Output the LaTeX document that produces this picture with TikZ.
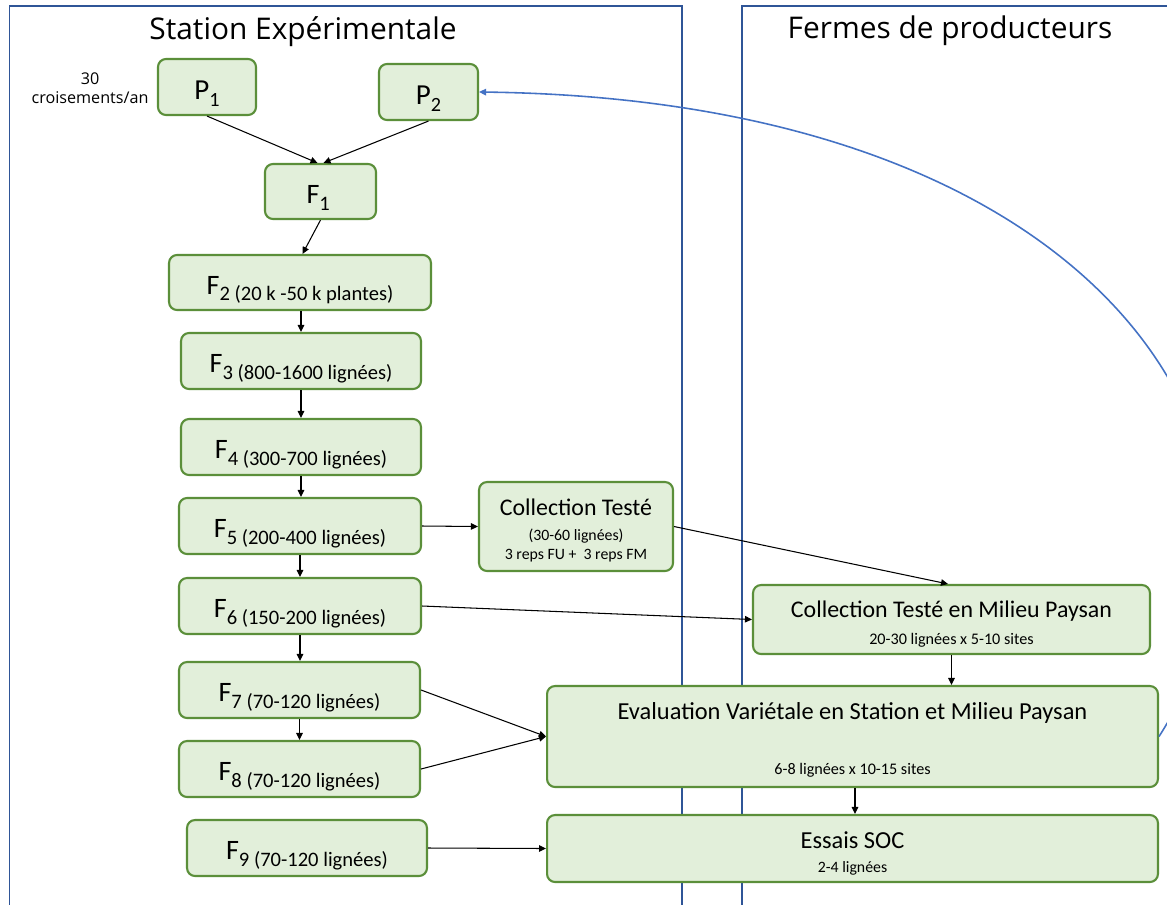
\documentclass[tikz,border=0pt]{standalone}
\usepackage{fontspec}
\setmainfont{Carlito}
\newfontfamily\ttlfont{Open Sans}
\usetikzlibrary{arrows.meta}
\definecolor{boxfill}{HTML}{E2EFDA}
\definecolor{boxline}{HTML}{5B8F3A}
\definecolor{panel}{HTML}{2F5597}
\definecolor{curveblue}{HTML}{4472C4}
\newcommand{\myfs}[2]{\fontsize{#1}{#2}\selectfont}
\newcommand{\Flab}[2]{{\myfs{16}{18}F}\raisebox{-3.8pt}{\myfs{11.7}{13}#1 #2}}
\newcommand{\Plab}[1]{{\myfs{16.5}{18}P}\raisebox{-3.8pt}{\myfs{11.5}{13}#1}}
\begin{document}
\begin{tikzpicture}[x=0.02cm,y=-0.02cm,
  box/.style={draw=boxline, fill=boxfill, line width=1.2pt, rounded corners=0.16cm, inner sep=0pt, align=center},
  fbox/.style={box, text height=15pt, text depth=1.6pt},
  pbox/.style={box, text height=15.5pt, text depth=1.3pt},
  arr/.style={-{Triangle[length=0.14cm,width=0.13cm]}, line width=0.6pt, black},
  barr/.style={-{Triangle[length=0.14cm,width=0.13cm]}, line width=0.9pt, curveblue},
  pnl/.style={draw=panel, line width=0.9pt},
  txt/.style={inner sep=0pt, align=center}]
\useasboundingbox (0,0) rectangle (1167,904);
\clip (0,0) rectangle (1167,904);
% panels
\draw[pnl] (9.5,6) rectangle (682,930);
\draw[pnl] (742,6) rectangle (1200,930);
\node[txt, font=\ttlfont\myfs{17}{20}] (t1) at (303,32) {Station Expérimentale};
\node[txt, font=\ttlfont\myfs{17}{20}] (t2) at (950,31) {Fermes de producteurs};
\node[txt, font=\ttlfont\myfs{9.2}{10.8}] (cross) at (90,88) {30\\croisements/an};
% left column boxes
\node[pbox, minimum width=1.96cm, minimum height=1.12cm] (p1) at (207,87) {\Plab{1}};
\node[pbox, minimum width=1.98cm, minimum height=1.12cm] (p2) at (428.5,92) {\Plab{2}};
\node[pbox, minimum width=2.22cm, minimum height=1.10cm] (f1) at (320.5,191.5) {\Flab{1}{}};
\node[fbox, minimum width=5.24cm, minimum height=1.10cm] (f2) at (300,282.5) {\Flab{2}{(20 k -50 k plantes)}};
\node[fbox, minimum width=4.80cm, minimum height=1.12cm] (f3) at (301,361) {\Flab{3}{(800-1600 lignées)}};
\node[fbox, minimum width=4.80cm, minimum height=1.12cm] (f4) at (301,447) {\Flab{4}{(300-700 lignées)}};
\node[fbox, minimum width=4.84cm, minimum height=1.12cm] (f5) at (300,526) {\Flab{5}{(200-400 lignées)}};
\node[fbox, minimum width=4.84cm, minimum height=1.12cm] (f6) at (300,606) {\Flab{6}{(150-200 lignées)}};
\node[fbox, minimum width=4.82cm, minimum height=1.12cm] (f7) at (299.5,690) {\Flab{7}{(70-120 lignées)}};
\node[fbox, minimum width=4.82cm, minimum height=1.12cm] (f8) at (299.5,769) {\Flab{8}{(70-120 lignées)}};
\node[fbox, minimum width=4.80cm, minimum height=1.12cm] (f9) at (307,848) {\Flab{9}{(70-120 lignées)}};
% collection teste
\node[box, minimum width=3.88cm, minimum height=1.78cm] (ct) at (576,526.5) {};
\node[txt, font=\myfs{13.6}{16}] (ctA) at (576,507) {Collection Testé};
\node[txt, font=\myfs{9}{11}] (ctB) at (576,536) {(30-60 lignées)};
\node[txt, font=\myfs{9}{11}] (ctC) at (576,556) {3 reps FU +\ \ 3 reps FM};
% collection teste en milieu paysan
\node[box, minimum width=7.94cm, minimum height=1.38cm] (ctmp) at (951.5,619.5) {};
\node[txt, font=\myfs{13.6}{16}] (ctmpA) at (951.5,611) {Collection Testé en Milieu Paysan};
\node[txt, font=\myfs{9.2}{11}] (ctmpB) at (951.5,640) {20-30 lignées x 5-10 sites};
% evaluation
\node[box, minimum width=12.22cm, minimum height=2.02cm] (eval) at (852.5,736.5) {};
\node[txt, font=\myfs{13.9}{16}] (evalA) at (852.5,713) {Evaluation Variétale en Station et Milieu Paysan};
\node[txt, font=\myfs{9.2}{11}] (evalB) at (852.5,770) {6-8 lignées x 10-15 sites};
% essais
\node[box, minimum width=12.22cm, minimum height=1.34cm] (soc) at (852.5,848.5) {};
\node[txt, font=\myfs{13.9}{16}] (socA) at (852.5,840) {Essais SOC};
\node[txt, font=\myfs{9}{11}] (socB) at (852.5,868) {2-4 lignées};
% arrows
\draw[arr] (p1.south) -- ([xshift=-0.06cm]f1.north);
\draw[arr] (p2.south) -- ([xshift=0.06cm]f1.north);
\draw[arr] (f1.south) -- ([xshift=0.05cm]f2.north);
\draw[arr] (f3.north |- f2.south) -- (f3.north);
\draw[arr] (f3.south) -- (f4.north);
\draw[arr] (f4.south) -- (f4.south |- f5.north);
\draw[arr] (f5.south) -- (f6.north);
\draw[arr] (f6.south) -- (f6.south |- f7.north);
\draw[arr] (f7.south) -- (f8.north);
\draw[arr] (f5.east) -- (ct.west);
\draw[arr] (ct.east) -- ([xshift=-0.07cm]ctmp.north);
\draw[arr] (f6.east) -- (ctmp.west);
\draw[arr] (ctmp.south) -- (ctmp.south |- eval.north);
\draw[arr] (f7.east) -- (eval.west);
\draw[arr] (f8.east) -- (eval.west);
\draw[arr] ([xshift=0.05cm]eval.south) -- ([xshift=0.05cm]soc.north);
\draw[arr] (f9.east) -- (soc.west);
\draw[barr] (eval.east) .. controls (1330,470) and (1120,100) .. (p2.east);
\end{tikzpicture}
\end{document}
